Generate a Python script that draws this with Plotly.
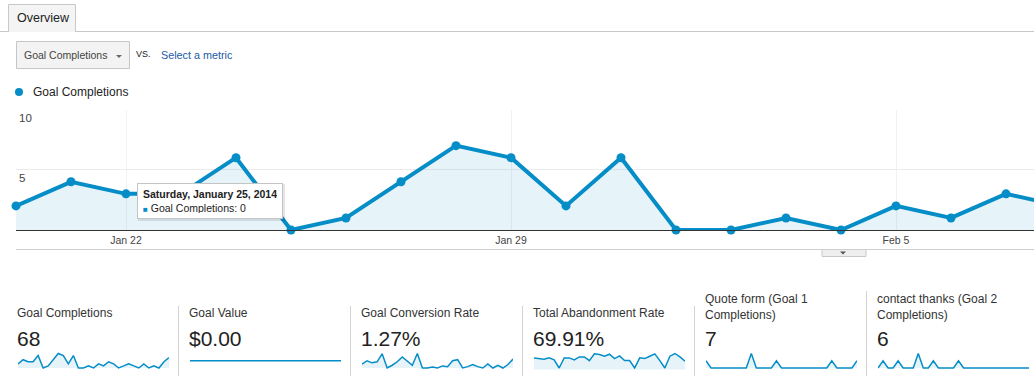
import pandas as pd
import plotly.graph_objects as go

W, H = 1034, 390
FONT = "Arial, 'Liberation Sans', sans-serif"
BLUE = "#058dc7"
FILL = "rgba(5,141,199,0.10)"

# ---------------- data ----------------
dates = pd.date_range("2014-01-20", periods=31, freq="D")
goal_completions = [2, 4, 3, 3, 6, 0, 1, 4, 7, 6, 2, 6, 0, 0, 1, 0, 2, 1, 3, 2,
                    0, 1, 2, 1, 0, 2, 0, 1, 0, 3, 5]
goal_value = [0, 0, 0, 0, 0, 0, 0, 0, 0, 0, 0, 0, 0, 0, 0, 0, 0, 0, 0, 0,
              0, 0, 0, 0, 0, 0, 0, 0, 0, 0, 0]
conversion_rate = [1.1, 2.1, 1.5, 1.8, 4.1, 0.0, 0.8, 1.8, 3.2, 2.1, 0.8, 4.2, 0.0, 0.0, 0.3, 0.0,
                   0.6, 0.4, 2.1, 2.4, 0.0, 0.4, 1.0, 0.4, 0.0, 1.2, 0.0, 0.8, 0.0, 1.0, 2.6]
abandonment_rate = [71.4, 69.3, 67.2, 71.4, 65.1, 40.0, 71.4, 71.4, 65.1, 74.5, 74.5, 63.0, 84.0,
                    81.9, 76.6, 82.9, 69.3, 77.7, 63.0, 63.0, 40.0, 71.4, 69.3, 76.6, 84.0, 63.0,
                    40.0, 76.6, 85.0, 74.5, 60.9]
quote_form = [1, 0, 0, 0, 0, 0, 0, 0, 0, 2, 0, 0, 0, 0, 1, 0, 0, 0, 0, 0,
              0, 0, 0, 0, 0, 1, 0, 0, 0, 0, 1]
contact_thanks = [0, 1, 0, 0, 1, 0, 0, 0, 2, 0, 0, 1, 0, 0, 0, 0, 1, 0, 0, 0,
                  0, 0, 0, 0, 0, 0, 0, 0, 0, 0, 0]

metric_titles = ["Goal Completions", "Goal Value", "Goal Conversion Rate",
                 "Total Abandonment Rate", "Quote form (Goal 1<br>Completions)",
                 "contact thanks (Goal 2<br>Completions)"]
metric_values = ["68", "$0.00", "1.27%", "69.91%", "7", "6"]
metric_series = [goal_completions, goal_value, conversion_rate, abandonment_rate,
                 quote_form, contact_thanks]

y_tickvals = [5, 10]
tooltip_date = "Saturday, January 25, 2014"
tooltip_value = 0


def px(xp):
    return xp / W


def py(yp):
    return 1 - yp / H


fig = go.Figure()

# ---------------- main chart ----------------
fig.add_trace(go.Scatter(
    x=dates, y=goal_completions, name="Goal Completions",
    mode="lines+markers",
    line=dict(color=BLUE, width=4),
    marker=dict(color=BLUE, size=9),
    fill="tozeroy", fillcolor=FILL,
    cliponaxis=False, xaxis="x", yaxis="y",
))

layout = dict(
    width=W, height=H,
    margin=dict(l=0, r=0, t=0, b=0),
    paper_bgcolor="white", plot_bgcolor="white",
    showlegend=False,
    font=dict(family=FONT, color="#333"),
    xaxis=dict(
        domain=[px(16), 1.0],
        type="date",
        range=[dates[0], dates[0] + pd.Timedelta(days=(1034 - 16) / 55.0)],
        tick0="2014-01-22", dtick=7 * 24 * 3600 * 1000,
        tickformat="%b %-d",
        tickfont=dict(size=10.5, color="#444", family=FONT),
        showgrid=True, gridcolor="#f1f1f1", gridwidth=1,
        showline=True, linecolor="#333", linewidth=1,
        ticks="", zeroline=False, fixedrange=True,
    ),
    yaxis=dict(
        domain=[py(230), py(109.5)],
        range=[0, 10],
        tickvals=y_tickvals,
        ticklabelposition="inside bottom",
        tickfont=dict(size=11.5, color="#444", family=FONT),
        showgrid=True, gridcolor="#ebebeb", gridwidth=1,
        zeroline=False, showline=False, ticks="", fixedrange=True,
    ),
)

# ---------------- sparklines ----------------
col_lefts = [16, 188, 360, 532, 704, 876]
for i, (left, series) in enumerate(zip(col_lefts, metric_series)):
    n = i + 2
    fig.add_trace(go.Scatter(
        x=dates, y=series, mode="lines",
        line=dict(color=BLUE, width=1.5),
        fill="tozeroy", fillcolor=FILL,
        xaxis=f"x{n}", yaxis=f"y{n}", hoverinfo="skip",
    ))
    lo, hi = min(series), max(series)
    if hi == lo:
        yr = [lo - 1, hi + 1]
    else:
        span = hi - lo
        yr = [lo - span * 1.5 / 14.5, hi + span * 1.5 / 14.5]
    layout[f"xaxis{n}"] = dict(domain=[px(left + 2), px(left + 153)],
                               range=[dates[0], dates[-1]], visible=False,
                               fixedrange=True, anchor=f"y{n}")
    layout[f"yaxis{n}"] = dict(domain=[py(369.5), py(352)], range=yr,
                               visible=False, fixedrange=True, anchor=f"x{n}")

fig.update_layout(**layout)

# ---------------- shapes ----------------
shapes = []


def line(x0, y0, x1, y1, color="#ccc", width=1):
    shapes.append(dict(type="line", xref="paper", yref="paper",
                       x0=px(x0), y0=py(y0), x1=px(x1), y1=py(y1),
                       line=dict(color=color, width=width)))


def rect(x0, y0, x1, y1, fill, color=None, width=1, layer="below"):
    shapes.append(dict(type="rect", xref="paper", yref="paper", layer=layer,
                       x0=px(x0), y0=py(y0), x1=px(x1), y1=py(y1),
                       fillcolor=fill,
                       line=dict(color=color or fill, width=width if color else 0)))


def poly(points, fill, color=None, width=0, layer="above"):
    d = "M " + " L ".join(f"{px(a):.5f},{py(b):.5f}" for a, b in points)
    if color is None:
        d += " Z"
    shapes.append(dict(type="path", xref="paper", yref="paper", path=d, layer=layer,
                       fillcolor=fill if fill else "rgba(0,0,0,0)",
                       line=dict(color=color or "rgba(0,0,0,0)", width=width)))


# Overview tab
rect(8, 5, 76, 32, "#f4f4f4")
poly([(8.5, 32), (8.5, 4.5), (75.5, 4.5), (75.5, 32)], None, color="#c8c8c8", width=1)
line(0, 31.5, 8.5, 31.5, "#c8c8c8")
line(75.5, 31.5, 1034, 31.5, "#c8c8c8")

# dropdown
rect(16.5, 41.5, 129.5, 68.5, "#f3f3f3", color="#c6c6c6")
poly([(116, 55), (122, 55), (119, 58)], "#6a6a6a")

# legend dot
shapes.append(dict(type="circle", xref="paper", yref="paper",
                   x0=px(15), x1=px(23), y0=py(88), y1=py(96),
                   fillcolor=BLUE, line=dict(width=0)))

# line under axis labels + small collapse tab
line(16, 249.5, 1034, 249.5, "#cfcfcf")
rect(822, 249.5, 866, 256.5, "#eeeeee", color="#c8c8c8")
poly([(840, 251.5), (846, 251.5), (843, 254.5)], "#555")

# metric separators
for xs in [178.5, 350.5, 522.5, 694.5]:
    line(xs, 306, xs, 376, "#d3d3d3")
line(866.5, 291, 866.5, 376, "#d3d3d3")

# tooltip shadow
rect(138, 184, 285, 221, "rgba(0,0,0,0.10)", layer="above")

fig.update_layout(shapes=shapes)

# ---------------- annotations ----------------
ann = []


def text(x, y, s, size, color="#333", anchor="middle", **kw):
    ann.append(dict(xref="paper", yref="paper", x=px(x), y=py(y), text=s,
                    xanchor="left", yanchor=anchor, showarrow=False,
                    font=dict(size=size, color=color, family=FONT), align="left", **kw))


text(14.5, 18, "Overview", 12.5, "#222")
text(22, 55.5, "Goal Completions", 10.5, "#444")
text(134, 54.5, "VS.", 9, "#222")
text(159, 55.5, "Select a metric", 10.8, "#1c5aa6")
text(31, 92, "Goal Completions", 12, "#222")

for left, title, val in zip(col_lefts, metric_titles, metric_values):
    yc = 306.5 if "<br>" in title else 313
    text(left - 1, yc, title, 12, "#333")
    text(left - 1, 338, val, 21, "#222")

# tooltip
ann.append(dict(
    xref="paper", yref="paper", x=px(137), y=py(183), xanchor="left", yanchor="top",
    showarrow=False, align="left", valign="middle", width=134, height=24,
    borderpad=5, borderwidth=1, bordercolor="#c4c4c4", bgcolor="white",
    font=dict(size=10.5, color="#222", family=FONT),
    text=(f"<b>{tooltip_date}</b><br>"
          f"<span style='color:{BLUE};font-size:8px'>■</span> "
          f"Goal Completions: {tooltip_value}"),
))

fig.update_layout(annotations=ann)

fig.write_html("out.html",
               config={"displayModeBar": False, "staticPlot": False},
               post_script="document.body.style.margin='0';document.body.style.overflow='hidden';")
